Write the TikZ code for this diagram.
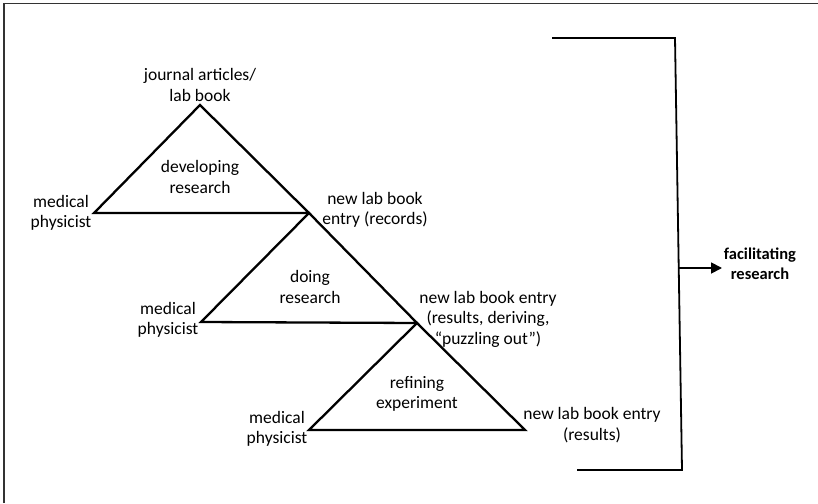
\documentclass[tikz,border=0pt]{standalone}
\usepackage{fontspec}
\setmainfont{Carlito}
\usetikzlibrary{arrows.meta}
\begin{document}
\begin{tikzpicture}[x=1pt,y=-1pt,
  lbl/.style={inner sep=0pt,align=center,font=\fontsize{17.5}{20.5}\selectfont},
  blbl/.style={inner sep=0pt,align=center,font=\fontsize{16.5}{20}\selectfont\bfseries},
  tri/.style={line width=2.3pt,line join=miter},
  brk/.style={line width=1.8pt},
  frame/.style={line width=1.6pt,draw=black!80}]
\useasboundingbox (0,0) rectangle (818,503);
% frame (cropped)
\coordinate (f1) at (4,503);
\coordinate (f2) at (4,3.5);
\coordinate (f3) at (818,3.5);
\draw[frame] (f1) -- (f2) -- (f3);
% triangles
\coordinate (A1) at (200,105);
\coordinate (L1) at (94,213);
\coordinate (R1) at (309,213);
\coordinate (L2) at (201,322);
\coordinate (R2) at (417,323);
\coordinate (L3) at (309,430);
\coordinate (R3) at (525,430);
\draw[tri] (A1) -- (L1) -- (R1) -- cycle;
\draw[tri] (R1) -- (L2) -- (R2) -- cycle;
\draw[tri] (R2) -- (L3) -- (R3) -- cycle;
% labels
\node[lbl] (jl) at (200,85) {journal articles/\\lab book};
\node[lbl] (dev) at (200,177) {developing\\research};
\node[lbl] (mp1) at (61,213) {medical\\physicist};
\node[lbl] (rec) at (375,210) {new lab book\\entry (records)};
\node[lbl] (doing) at (310,287) {doing\\research};
\node[lbl] (mp2) at (168,320) {medical\\physicist};
\node[lbl] (puz) at (488,319) {new lab book entry\\(results, deriving,\\“puzzling out”)};
\node[lbl] (ref) at (417,394) {refining\\experiment};
\node[lbl] (mp3) at (277,429) {medical\\physicist};
\node[lbl] (res) at (592,425) {new lab book entry\\(results)};
% bracket
\coordinate (b1) at (552,38);
\coordinate (b2) at (675,38);
\coordinate (b3) at (682,470);
\coordinate (b4) at (577,470);
\draw[brk,line join=miter] (b1) -- (b2) -- (b3) -- (b4);
\node[blbl] (fac) at (760,264) {facilitating\\research};
\coordinate (a0) at (678,268);
\coordinate (a1) at (722,268);
\draw[brk,-{Triangle[length=11pt,width=11pt]}] (a0) -- (a1);
\end{tikzpicture}
\end{document}
